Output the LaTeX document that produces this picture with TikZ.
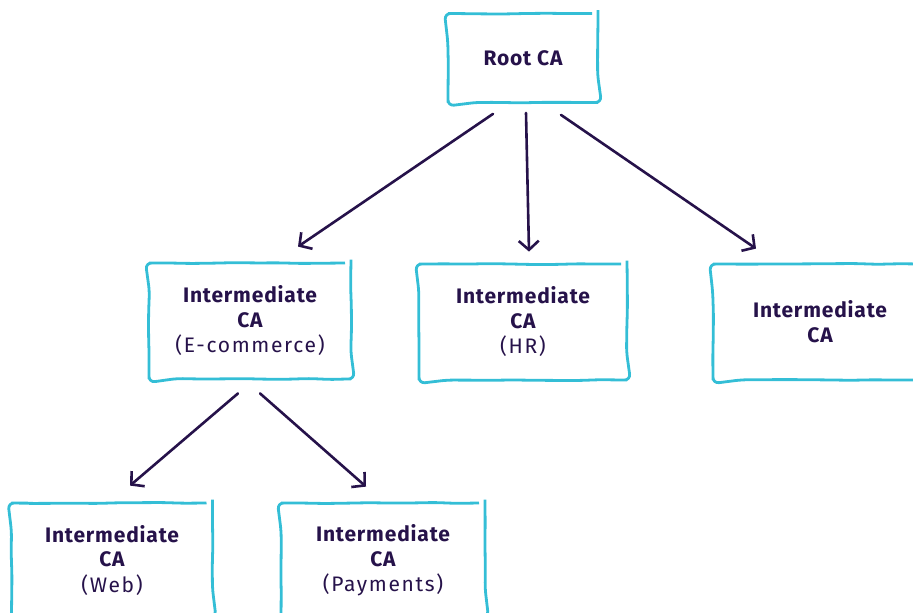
\documentclass[tikz,border=0pt]{standalone}
\usepackage{fontspec}
\setmainfont{Fira Sans}[LetterSpace = 8, BoldFeatures = {LetterSpace = 4}]
\usetikzlibrary{arrows.meta,positioning}
\usetikzlibrary{decorations.pathmorphing}
\definecolor{boxcyan}{RGB}{52,190,214}
\definecolor{inkpurple}{RGB}{38,18,74}
\tikzset{
    cabox/.style = {draw = boxcyan, line width = 2.8pt, rounded corners = 6pt,
                    decorate, decoration = {random steps, segment length = 22pt, amplitude = 0.5pt},
                    align = center, text = inkpurple, inner sep = 0pt,
                    font = \fontsize{21}{25}\selectfont},
    arr/.style = {draw = inkpurple, line width = 2.6pt, line cap = round,
                  -{Straight Barb[length = 9pt, width = 20pt, line width = 2.6pt]}}
}
\begin{document}
\begin{tikzpicture}[x = 1pt, y = -1pt]

            % Define page frame
            \useasboundingbox (0,0) rectangle (913,613);
            \pgfmathsetseed{7}
            \node[cabox, minimum width = 150, minimum height = 89] (root) at (523,58) {\bfseries Root CA};
            \node[cabox, minimum width = 202, minimum height = 116] (ecom) at (250,321) {\bfseries Intermediate\\ \bfseries CA\\ (E-commerce)};
            \node[cabox, minimum width = 208, minimum height = 116] (hr) at (523,322) {\bfseries Intermediate\\ \bfseries CA\\ (HR)};
            \node[cabox, minimum width = 214, minimum height = 116] (other) at (820,322) {\bfseries Intermediate\\ \bfseries CA};
            \node[cabox, minimum width = 201, minimum height = 114] (web) at (112,560) {\bfseries Intermediate\\ \bfseries CA\\ (Web)};
            \node[cabox, minimum width = 204, minimum height = 114] (pay) at (383,560) {\bfseries Intermediate\\ \bfseries CA\\ (Payments)};

            % Arrows from root
            \draw[arr] ([shift = {(-30,10)}]root.south) -- ([shift = {(48,-15)}]ecom.north);
            \draw[arr] ([shift = {(3,9)}]root.south) -- ([shift = {(6,-11)}]hr.north);
            \draw[arr] ([shift = {(38,11)}]root.south) -- ([shift = {(-64,-14)}]other.north);
            % Arrows from E-commerce
            \draw[arr] ([shift = {(-12,13)}]ecom.south) -- ([shift = {(18,-16)}]web.north);
            \draw[arr] ([shift = {(10,13)}]ecom.south) -- ([shift = {(-17,-15)}]pay.north);
        \end{tikzpicture}
\end{document}
